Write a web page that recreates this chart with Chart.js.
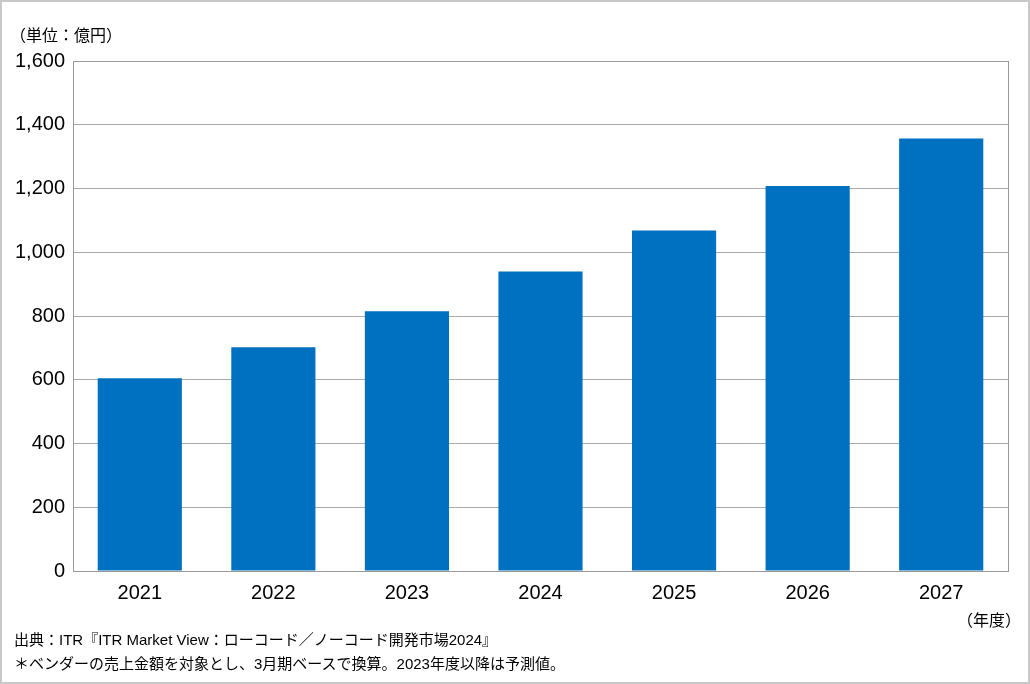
<!DOCTYPE html>
<html>
<head>
<meta charset="utf-8">
<script src="https://cdn.jsdelivr.net/npm/chart.js@4"></script>
<style>
  body { margin: 0; background: #fff; }
  #wrap { position: relative; width: 1030px; height: 684px; box-sizing: border-box; border: 2px solid #c8c8c8; font-family: "Liberation Sans", "Noto Sans CJK JP", sans-serif; }
  canvas { position: absolute; left: 0; top: 0; }
  .t { position: absolute; color: #000; white-space: nowrap; font-family: "Liberation Sans", "Noto Sans CJK JP", sans-serif; }
</style>
</head>
<body>
<div id="wrap">
  <canvas id="c" width="1026" height="680"></canvas>
  <div class="t" style="left:8px;top:20px;font-size:16px;">（単位：億円）</div>
  <div class="t" style="left:955px;top:605px;font-size:16px;">（年度）</div>
  <div class="t" style="left:12px;top:626px;font-size:15px;">出典：ITR『ITR Market View：ローコード／ノーコード開発市場2024』</div>
  <div class="t" style="left:12px;top:650px;font-size:15px;">＊ベンダーの売上金額を対象とし、3月期ベースで換算。2023年度以降は予測値。</div>
</div>
<script>
const years = ["2021", "2022", "2023", "2024", "2025", "2026", "2027"];
const sales = [605, 702, 815, 940, 1068, 1208, 1357];

const boxPlugin = {
  id: "box",
  afterDraw(chart) {
    const a = chart.chartArea, ctx = chart.ctx;
    ctx.save();
    ctx.strokeStyle = "#999";
    ctx.lineWidth = 1;
    ctx.strokeRect(a.left + 0.5, a.top + 0.5, a.right - a.left, a.bottom - a.top);
    ctx.restore();
  }
};

new Chart(document.getElementById("c"), {
  type: "bar",
  data: {
    labels: years,
    datasets: [{ data: sales, backgroundColor: "#0070c0", barPercentage: 0.63, categoryPercentage: 1 }]
  },
  options: {
    responsive: false,
    animation: false,
    layout: { padding: { top: 59, right: 20, bottom: 81, left: 0 } },
    plugins: { legend: { display: false }, tooltip: { enabled: false } },
    scales: {
      x: {
        grid: { display: false },
        border: { color: "#999" },
        ticks: { color: "#000", font: { size: 20, family: "Liberation Sans" }, padding: 2 },
        afterFit(s) { s.height = 30; }
      },
      y: {
        min: 0, max: 1600,
        grid: { color: "#aaa", drawTicks: false },
        border: { color: "#999" },
        ticks: { stepSize: 200, color: "#000", padding: 8, font: { size: 20, family: "Liberation Sans" },
          callback: (v) => v.toLocaleString("en-US") },
        afterFit(s) { s.width = 71; }
      }
    }
  },
  plugins: [boxPlugin]
});
</script>
</body>
</html>
